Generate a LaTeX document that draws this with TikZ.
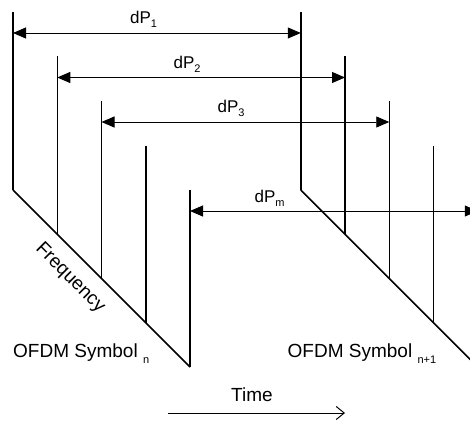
\documentclass[tikz,border=0pt]{standalone}
\usepackage{fontspec}
\setmainfont{Liberation Sans}
\usetikzlibrary{arrows.meta}
\newcommand{\bigf}{\fontsize{19}{19}\selectfont}
\newcommand{\midf}{\fontsize{17}{17}\selectfont}
\newcommand{\subf}[2]{\raisebox{-#1}{\fontsize{11}{11}\selectfont #2}}
\begin{document}
\begin{tikzpicture}[x=1pt,y=-1pt,
  carrier/.style={line width=1.5pt},
  spread/.style={line width=1.5pt},
  delay/.style={line width=0.9pt,{Triangle[length=13pt,width=11pt]}-{Triangle[length=13pt,width=11pt]}},
  timearrow/.style={line width=1pt,-{Straight Barb[length=8pt,width=13pt,line width=1pt]}},
  lbl/.style={inner sep=0pt,anchor=base west}]
\useasboundingbox (0,0) rectangle (470,422);
\clip (0,0) rectangle (470,422);
% symbol n
\foreach \i in {0,...,4}{
  \coordinate (nt\i) at ({13+44.25*\i},{12+44.5*\i});
  \coordinate (nb\i) at ({13+44.25*\i},{190+44.25*\i});
  \coordinate (na\i) at ({13+44.25*\i},{33+44.5*\i});
}
% symbol n+1
\foreach \i in {0,...,4}{
  \coordinate (mt\i) at ({300.75+44.25*\i},{12+44.5*\i});
  \coordinate (mb\i) at ({300.75+44.25*\i},{190+44.25*\i});
  \coordinate (ma\i) at ({300.75+44.25*\i},{33+44.5*\i});
}
\foreach \i in {0,...,4}{ \draw[carrier] (nt\i) -- (nb\i); }
\foreach \i in {0,...,3}{ \draw[carrier] (mt\i) -- (mb\i); }
\draw[spread] (nb0) -- (nb4);
\draw[spread] (mb0) -- (mb4);
% delay arrows
\draw[delay] (na0) -- (ma0);
\draw[delay] (na1) -- (ma1);
\draw[delay] (na2) -- (ma2);
\draw[delay] (na4) -- (ma4);
% labels
\node[lbl] (l1) at (130,24) {\midf dP\subf{4pt}{1}};
\node[lbl] (l2) at (173.4,68.5) {\midf dP\subf{4pt}{2}};
\node[lbl] (l3) at (217.4,113) {\midf dP\subf{4pt}{3}};
\node[lbl] (l4) at (254.4,202) {\midf dP\subf{4pt}{m}};
\node[inner sep=0pt,rotate=-45] (freq) at (70,278) {\bigf Frequency};
\node[lbl] (s1) at (13,357.5) {\bigf OFDM Symbol \subf{5.5pt}{n}};
\node[lbl] (s2) at (287.5,357) {\bigf OFDM Symbol \subf{6pt}{n+1}};
\node[lbl] (time) at (231,401.7) {\bigf Time};
\coordinate (t1) at (168,413);
\coordinate (t2) at (345,413);
\draw[timearrow] (t1) -- (t2);
\end{tikzpicture}
\end{document}
